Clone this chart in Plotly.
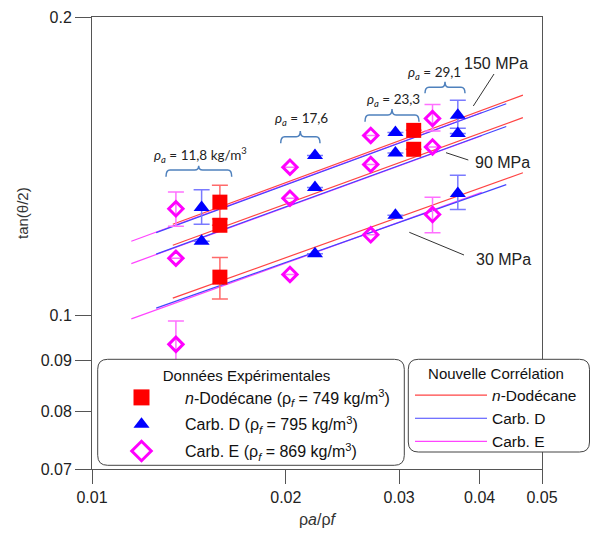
import plotly.graph_objects as go

# ---------------- data ----------------
# Experimental data (x = rho_a / rho_f, y = tan(theta/2))
dodecane_x = [0.0158, 0.0158, 0.0158, 0.0316, 0.0316]
dodecane_y = [0.1301, 0.1233, 0.1093, 0.1537, 0.1471]
dodecane_err_plus = [0.0052, None, 0.0051, None, None]
dodecane_err_minus = [0.0050, None, 0.0054, None, None]

carbD_x = [0.0148, 0.0148, 0.0222, 0.0222, 0.0222, 0.0296, 0.0296, 0.0296, 0.0370, 0.0370, 0.0370]
carbD_y = [0.1285, 0.1188, 0.1450, 0.1346, 0.1154, 0.1529, 0.1458, 0.1262, 0.1592, 0.1526, 0.1327]
carbD_err_plus = [0.0054, None, None, None, None, None, None, None, 0.0056, None, 0.0058]
carbD_err_minus = [0.0049, None, None, None, None, None, None, None, 0.0047, None, 0.0048]

carbE_x = [0.0135, 0.0135, 0.0135, 0.0203, 0.0203, 0.0203, 0.0271, 0.0271, 0.0271, 0.0338, 0.0338, 0.0338]
carbE_y = [0.1281, 0.1142, 0.0935, 0.1411, 0.1313, 0.1100, 0.1519, 0.1420, 0.1206, 0.1580, 0.1479, 0.1264]
carbE_err_plus = [0.0051, None, 0.0052, None, None, None, None, None, None, 0.0052, None, 0.0052]
carbE_err_minus = [0.0051, None, 0.0050, None, None, None, None, None, None, 0.0045, None, 0.0052]

# Correlation lines (150, 90, 30 MPa), endpoints of each power-law segment
pressures = ["150 MPa", "90 MPa", "30 MPa"]
corr_dodecane_x = [0.01335, 0.0467]
corr_carbD_x = [0.01258, 0.0440]
corr_carbE_x = [0.01151, 0.0403]
corr_dodecane_y = [[0.1236, 0.1668], [0.1177, 0.1583], [0.1041, 0.1393]]
corr_carbD_y = [[0.1212, 0.1635], [0.1153, 0.1551], [0.1017, 0.1355]]
corr_carbE_y = [[0.1188, 0.1602], [0.1128, 0.1518], [0.0992, 0.1331]]

rho_a_labels = ["<i>ρ</i><sub><i>a</i></sub> = 11,8 kg/m<sup>3</sup>",
                "<i>ρ</i><sub><i>a</i></sub> = 17,6",
                "<i>ρ</i><sub><i>a</i></sub> = 23,3",
                "<i>ρ</i><sub><i>a</i></sub> = 29,1"]

x_ticks = [0.01, 0.02, 0.03, 0.04, 0.05]
x_ticktext = ["0.01", "0.02", "0.03", "0.04", "0.05"]
y_ticks = [0.07, 0.08, 0.09, 0.1, 0.2]
y_ticktext = ["0.07", "0.08", "0.09", "0.1", "0.2"]

# ---------------- layout helpers (pixel -> paper) ----------------
W, H = 591, 537
L, R, T, B = 92, 49, 17, 68
PW, PH = W - L - R, H - T - B


def px(x):
    return (x - L) / PW


def py(y):
    return (H - B - y) / PH


def join_segments(xs, ys_list):
    X, Y = [], []
    for ys in ys_list:
        X += list(xs) + [None]
        Y += list(ys) + [None]
    return X, Y


RED, BLUE, MAG = "#ff0000", "#0000ff", "#ff00ff"
FONT = "Liberation Sans, Arial, sans-serif"

fig = go.Figure()

# correlation lines
for name, xs, ys, col, rank in [
    ("Carb. E", corr_carbE_x, corr_carbE_y, "#ff44ff", 3),
    ("Carb. D", corr_carbD_x, corr_carbD_y, "#4444ff", 2),
    ("<i>n</i>-Dodécane", corr_dodecane_x, corr_dodecane_y, "#ff4444", 1),
]:
    X, Y = join_segments(xs, ys)
    fig.add_trace(go.Scatter(x=X, y=Y, mode="lines", name=name, legend="legend2",
                             legendrank=rank, line=dict(color=col, width=1.2),
                             hoverinfo="skip"))

# experimental points (legend drawn with slightly larger symbols, as in the original)
exp = [
    ("<i>n</i>-Dodécane (ρ<sub><i>f</i></sub> = 749 kg/m<sup>3</sup>)", dodecane_x, dodecane_y,
     dodecane_err_plus, dodecane_err_minus, dict(symbol="square", size=15, color=RED),
     dict(symbol="square", size=16, color=RED), "#ff6a6a", "g1"),
    ("Carb. D (ρ<sub><i>f</i></sub> = 795 kg/m<sup>3</sup>)", carbD_x, carbD_y,
     carbD_err_plus, carbD_err_minus, dict(symbol="triangle-up", size=14, color=BLUE),
     dict(symbol="triangle-up", size=14, color=BLUE), "#7a7aff", "g2"),
    ("Carb. E (ρ<sub><i>f</i></sub> = 869 kg/m<sup>3</sup>)", carbE_x, carbE_y,
     carbE_err_plus, carbE_err_minus,
     dict(symbol="diamond-open", size=11, color=MAG, line=dict(width=3, color=MAG)),
     dict(symbol="diamond-open", size=15, color=MAG, line=dict(width=3, color=MAG)),
     "#ff70ff", "g3"),
]
for name, xs, ys, ep, em, mk, mk_leg, ecol, grp in exp:
    fig.add_trace(go.Scatter(
        x=xs, y=ys, mode="markers", name=name, legend="legend", legendgroup=grp,
        showlegend=False, marker=mk,
        error_y=dict(type="data", symmetric=False, array=ep, arrayminus=em,
                     color=ecol, thickness=1.5, width=8),
    ))
    fig.add_trace(go.Scatter(
        x=[None], y=[None], mode="markers", name=name, legend="legend", legendgroup=grp,
        showlegend=True, marker=mk_leg, hoverinfo="skip"))

shapes = []


def rrect(x0, y0, x1, y1, r):
    rx, ry = r / PW, r / PH
    X0, X1, Y0, Y1 = px(x0), px(x1), py(y0), py(y1)  # Y0 top, Y1 bottom
    p = (f"M{X0 + rx},{Y0} L{X1 - rx},{Y0} Q{X1},{Y0} {X1},{Y0 - ry} "
         f"L{X1},{Y1 + ry} Q{X1},{Y1} {X1 - rx},{Y1} L{X0 + rx},{Y1} "
         f"Q{X0},{Y1} {X0},{Y1 + ry} L{X0},{Y0 - ry} Q{X0},{Y0} {X0 + rx},{Y0} Z")
    return dict(type="path", xref="paper", yref="paper", path=p, layer="above",
                fillcolor="white", line=dict(color="#444444", width=1))


shapes.append(rrect(97.7, 359.3, 404.3, 465.3, 10))
shapes.append(rrect(408.3, 359.3, 589.5, 452, 10))


def brace(x0, x1, xc, ybar, yarm, yspike):
    r = 4
    p = (f"M{px(x0)},{py(yarm)} Q{px(x0)},{py(ybar)} {px(x0 + r)},{py(ybar)} "
         f"L{px(xc - r)},{py(ybar)} Q{px(xc)},{py(ybar)} {px(xc)},{py(yspike)} "
         f"Q{px(xc)},{py(ybar)} {px(xc + r)},{py(ybar)} "
         f"L{px(x1 - r)},{py(ybar)} Q{px(x1)},{py(ybar)} {px(x1)},{py(yarm)}")
    return dict(type="path", xref="paper", yref="paper", path=p,
                line=dict(color="#4f81bd", width=1.5))


braces = [(166, 231.7, 198.7, 170, 176.7, 165.7),
          (280.7, 320, 300.3, 136.7, 143.3, 131),
          (365, 419, 392, 115, 121.7, 109),
          (425, 465, 445, 87.3, 93.3, 81.7)]
for b in braces:
    shapes.append(brace(*b))

label_pos = [(200.5, 155), (301.7, 119), (393.8, 100), (434.8, 72.7)]
annotations = []
for txt, (lx, ly) in zip(rho_a_labels, label_pos):
    annotations.append(dict(x=px(lx), y=py(ly), xref="paper", yref="paper", text=txt,
                            showarrow=False, xanchor="center", yanchor="middle",
                            font=dict(family="Lato, Carlito, sans-serif", size=13.5, color="#222")))

# pressure labels + leader lines
p_label_pos = [(495.5, 63), (502, 163), (503.5, 259)]
leaders = [((494, 74), (473.3, 106)), ((446, 152.7), (468.3, 160)), ((409.3, 232.3), (464, 255))]
for txt, (lx, ly), ((ax0, ay0), (ax1, ay1)) in zip(pressures, p_label_pos, leaders):
    annotations.append(dict(x=px(lx), y=py(ly), xref="paper", yref="paper", text=txt,
                            showarrow=False, xanchor="center", yanchor="middle",
                            font=dict(family=FONT, size=16, color="#222")))
    shapes.append(dict(type="line", xref="paper", yref="paper", x0=px(ax0), y0=py(ay0),
                       x1=px(ax1), y1=py(ay1), line=dict(color="#333", width=1)))

# axis titles
annotations.append(dict(x=px(22), y=py(213), xref="paper", yref="paper", text="tan(θ/2)",
                        textangle=-90, showarrow=False, xanchor="center", yanchor="middle",
                        font=dict(family=FONT, size=15, color="#333")))
annotations.append(dict(x=px(318), y=py(519), xref="paper", yref="paper",
                        text="ρ<i>a</i>/ρ<i>f</i>", showarrow=False, xanchor="center",
                        yanchor="middle", font=dict(family=FONT, size=16, color="#333")))

axis_common = dict(type="log", showgrid=False, zeroline=False, showline=True,
                   linecolor="#555", linewidth=1, mirror=True, ticks="outside",
                   tickcolor="#555", tickwidth=1, automargin=False,
                   tickfont=dict(family=FONT, size=16, color="#222"))

fig.update_layout(
    width=W, height=H,
    margin=dict(l=L, r=R, t=T, b=B, autoexpand=False),
    paper_bgcolor="white", plot_bgcolor="white",
    xaxis=dict(range=[-2, -1.30103], tickvals=x_ticks, ticktext=x_ticktext, ticklen=14,
               **axis_common),
    yaxis=dict(range=[-1.154902, -0.69897], tickvals=y_ticks, ticktext=y_ticktext, ticklen=16,
               **axis_common),
    shapes=shapes,
    annotations=annotations,
    legend=dict(x=px(98), y=py(361), xanchor="left", yanchor="top",
                bgcolor="rgba(0,0,0,0)", borderwidth=0, itemwidth=77, tracegroupgap=3,
                font=dict(family=FONT, size=16, color="#111"),
                title=dict(text="Données Expérimentales", side="top center",
                           font=dict(family=FONT, size=15, color="#111"))),
    legend2=dict(x=px(410), y=py(359), xanchor="left", yanchor="top",
                 bgcolor="rgba(0,0,0,0)", borderwidth=0, itemwidth=72,
                 font=dict(family=FONT, size=15.5, color="#111"),
                 title=dict(text="Nouvelle Corrélation", side="top center",
                            font=dict(family=FONT, size=15, color="#111"))),
)

fig.write_html("out.html", config={"displayModeBar": False},
               post_script="document.body.style.margin='0px';"
                           "document.documentElement.style.margin='0px';")
